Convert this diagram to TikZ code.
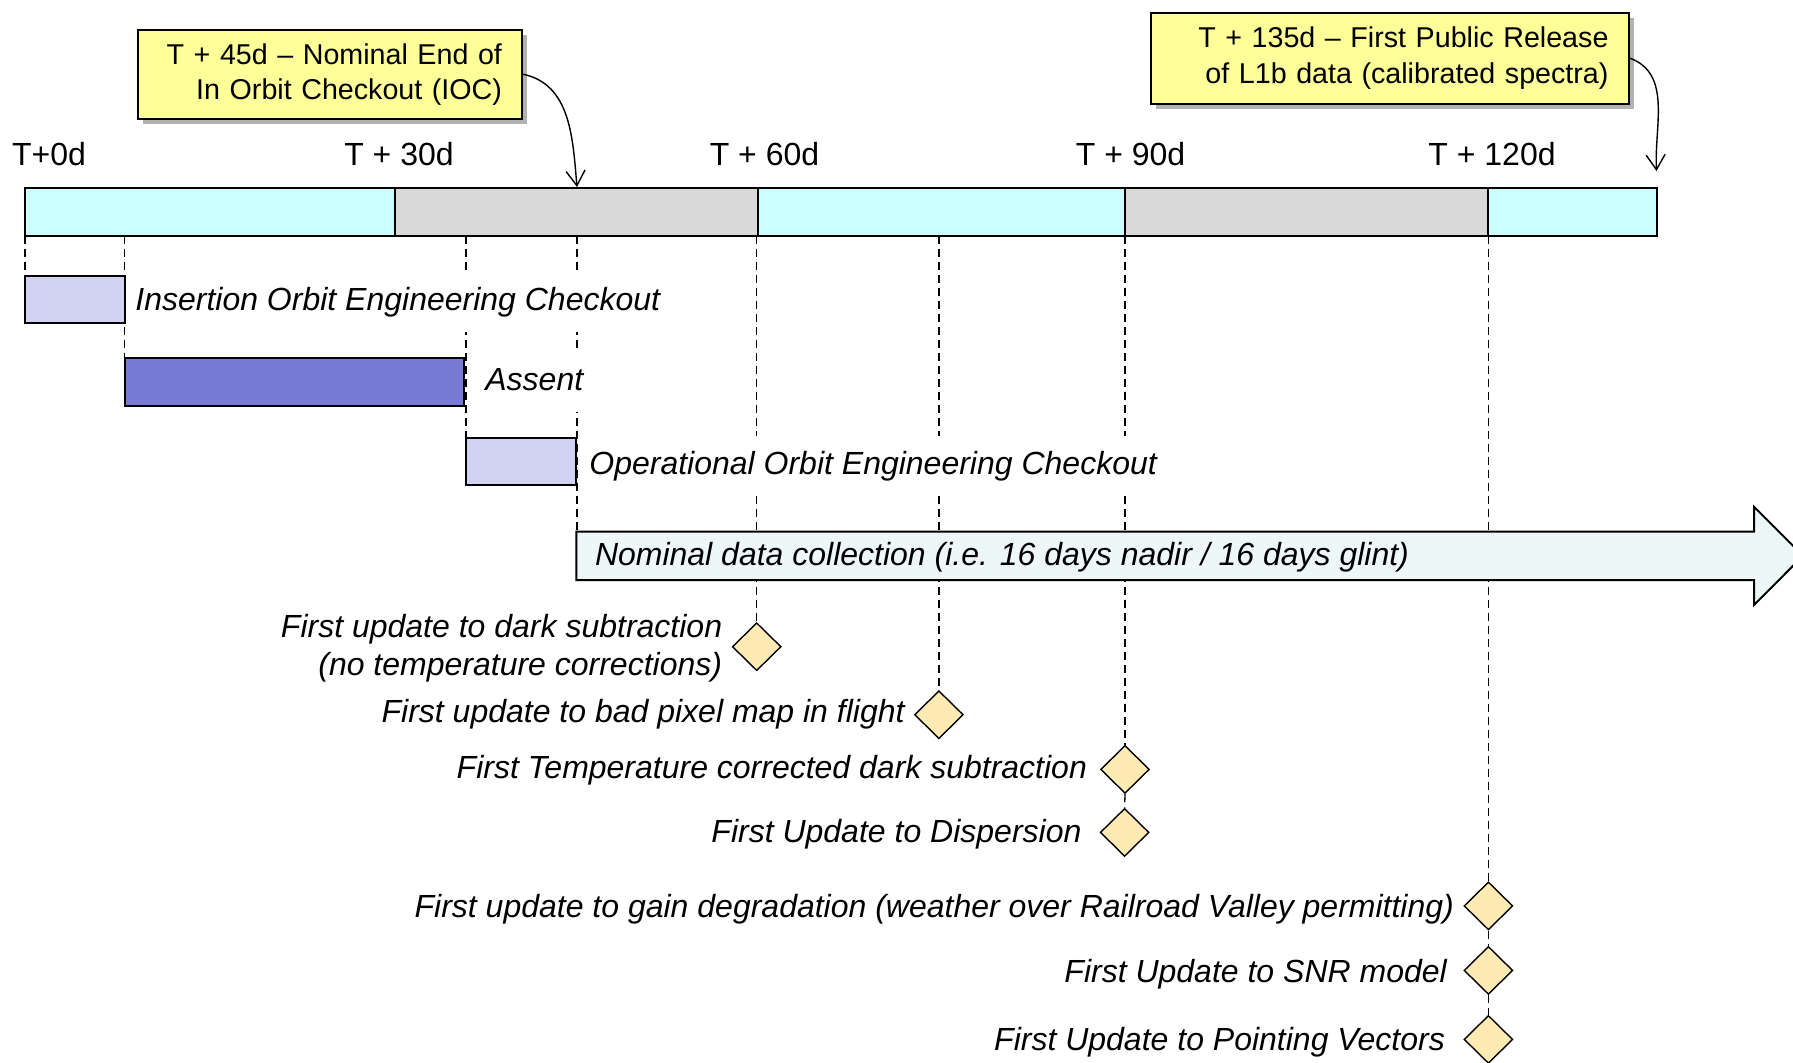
\documentclass[tikz,border=0pt]{standalone}
\usepackage{fontspec}
\setmainfont{Liberation Sans}
\usetikzlibrary{arrows.meta,shapes.geometric,shadows}
\definecolor{barcyan}{HTML}{CCFFFF}
\definecolor{bargray}{HTML}{D9D9D9}
\definecolor{lav}{HTML}{D2D2F2}
\definecolor{assentblue}{HTML}{787AD6}
\definecolor{calloutyel}{HTML}{FFFF99}
\definecolor{diafill}{HTML}{FFEAB4}
\definecolor{nomfill}{HTML}{EEF7F8}
\pgfdeclarelayer{bg}
\pgfsetlayers{bg,main}
\begin{document}
\begin{tikzpicture}[x=0.5pt,y=-0.5pt,
  seg/.style={draw=black, line width=1pt, minimum height=24pt, inner sep=0pt, outer sep=0pt, anchor=north west},
  phasebox/.style={draw=black, line width=1pt, minimum height=23.85pt, inner sep=0pt, outer sep=0pt, anchor=north west},
  ticklbl/.style={inner sep=0pt, font=\fontsize{16pt}{19.2pt}\selectfont},
  phaselbl/.style={anchor=west, fill=white, inner xsep=0pt, inner ysep=7pt, text height=12pt, text depth=4pt, font=\fontsize{16pt}{19.2pt}\selectfont\itshape},
  mslbl/.style={anchor=east, align=right, inner xsep=0pt, inner ysep=2pt, font=\fontsize{16pt}{19.25pt}\selectfont\itshape},
  callout/.style={draw=black, line width=1pt, fill=calloutyel, anchor=north west, align=right, inner xsep=10pt, inner ysep=0pt,
    font=\fontsize{14.33pt}{17.6pt}\selectfont,
    drop shadow={shadow xshift=2.5pt, shadow yshift=-2.5pt, fill=black, opacity=0.3}},
  milestone/.style={diamond, draw=black, line width=0.7pt, fill=diafill, inner sep=0pt, minimum width=24.4pt, minimum height=24pt},
  conn/.style={line width=0.7pt, -{Straight Barb[length=7.5pt,width=9.5pt]}},
  dl/.style={line width=0.65pt, dash pattern=on 4pt off 2.5pt}
]
\useasboundingbox (0,0) rectangle (1793,1062);
\clip (0,0) rectangle (1793,1062);

% timeline bar
\node[seg, fill=barcyan, minimum width=184.75pt] (s1) at (25,187.5) {};
\node[seg, fill=bargray, minimum width=181.5pt] (s2) at (394.5,187.5) {};
\node[seg, fill=barcyan, minimum width=183.75pt] (s3) at (757.5,187.5) {};
\node[seg, fill=bargray, minimum width=181.5pt] (s4) at (1125,187.5) {};
\node[seg, fill=barcyan, minimum width=84.25pt] (s5) at (1488,187.5) {};

% tick labels
\node[ticklbl] (l0) at (49,154) {T+0d};
\node[ticklbl] (l30) at (399,154) {T + 30d};
\node[ticklbl] (l60) at (764.5,154) {T + 60d};
\node[ticklbl] (l90) at (1130.6,154) {T + 90d};
\node[ticklbl] (l120) at (1492,154) {T + 120d};

% callouts
\node[callout, minimum width=192pt, minimum height=44.6pt, text width=172pt] (c1) at (137,28.6)
  {T + 45d -- Nominal End of\\In Orbit Checkout (IOC)};
\node[callout, minimum width=238.75pt, minimum height=45.5pt, text width=218.75pt] (c2) at (1150,11.5)
  {T + 135d -- First Public Release\\of L1b data (calibrated spectra)};
\coordinate (ioc) at (577,187);
\coordinate (pub) at (1656.5,171);
\draw[conn] (c1.east) to[out=-12,in=95] (ioc);
\draw[conn] (c2.east) to[out=-20,in=93] (pub);

% phase boxes
\node[phasebox, fill=lav, minimum width=49.8pt] (ioec) at (25,275.6) {};
\node[phasebox, fill=assentblue, minimum width=169.7pt] (assent) at (124.6,358.3) {};
\node[phasebox, fill=lav, minimum width=55pt] (oper) at (466,437.7) {};

% nominal data collection arrow
\coordinate (nomtl) at (576.3,531.7);
\draw[line width=1pt, fill=nomfill, line join=miter]
  (nomtl) -- (1754,531.7) -- (1754,506.7) -- (1803,555.8) -- (1754,605) -- (1754,580) -- (576.3,580) -- cycle;
\node[anchor=west, inner sep=0pt, font=\fontsize{16pt}{19.2pt}\selectfont\itshape] (nomtxt) at (594.6,557.5)
  {Nominal data collection (i.e. 16 days nadir / 16 days glint)};

% phase labels
\node[phaselbl] (ioectxt) at (135,302) {Insertion Orbit Engineering Checkout};
\node[phaselbl] (assenttxt) at (485,382) {Assent};
\node[phaselbl] (opertxt) at (589,466) {Operational Orbit Engineering Checkout};

% milestones
\node[milestone] (d1) at (756.7,646.7) {};
\node[milestone] (d2) at (938.9,714.7) {};
\node[milestone] (d3) at (1125,769.4) {};
\node[milestone] (d4) at (1124.6,832.4) {};
\node[milestone] (d5) at (1488.4,905.9) {};
\node[milestone] (d6) at (1488.4,970.4) {};
\node[milestone] (d7) at (1488.4,1039.4) {};

\node[mslbl] (t1) at (722.5,648) {First update to dark subtraction\\(no temperature corrections)};
\node[mslbl] (t2) at (905,714.5) {First update to bad pixel map in flight};
\node[mslbl] (t3) at (1087.3,770.3) {First Temperature corrected dark subtraction};
\node[mslbl] (t4) at (1081.8,834.3) {First Update to Dispersion};
\node[mslbl] (t5) at (1454.4,909) {First update to gain degradation (weather over Railroad Valley permitting)};
\node[mslbl] (t6) at (1447.2,973.8) {First Update to SNR model};
\node[mslbl] (t7) at (1445.2,1042.6) {First Update to Pointing Vectors};

% dashed guide lines
\begin{pgfonlayer}{bg}
\draw[dl] (s1.south west) -- (ioec.north west);
\draw[dl] (assent.north west |- s1.south) -- (assent.north west);
\draw[dl] (oper.north west |- s1.south) -- (oper.north west);
\draw[dl] (ioc |- s2.south) -- (ioc |- nomtl);
\draw[dl] (d1.north |- s2.south) -- (d1.north);
\draw[dl] (d2.north |- s3.south) -- (d2.north);
\draw[dl] (d3.north |- s3.south) -- (d3.north);
\draw[dl] (d3.south) -- (d4.north);
\draw[dl] (d5.north |- s4.south) -- (d5.north);
\draw[dl] (d5.south) -- (d6.north);
\draw[dl] (d6.south) -- (d7.north);
\end{pgfonlayer}
\end{tikzpicture}
\end{document}
